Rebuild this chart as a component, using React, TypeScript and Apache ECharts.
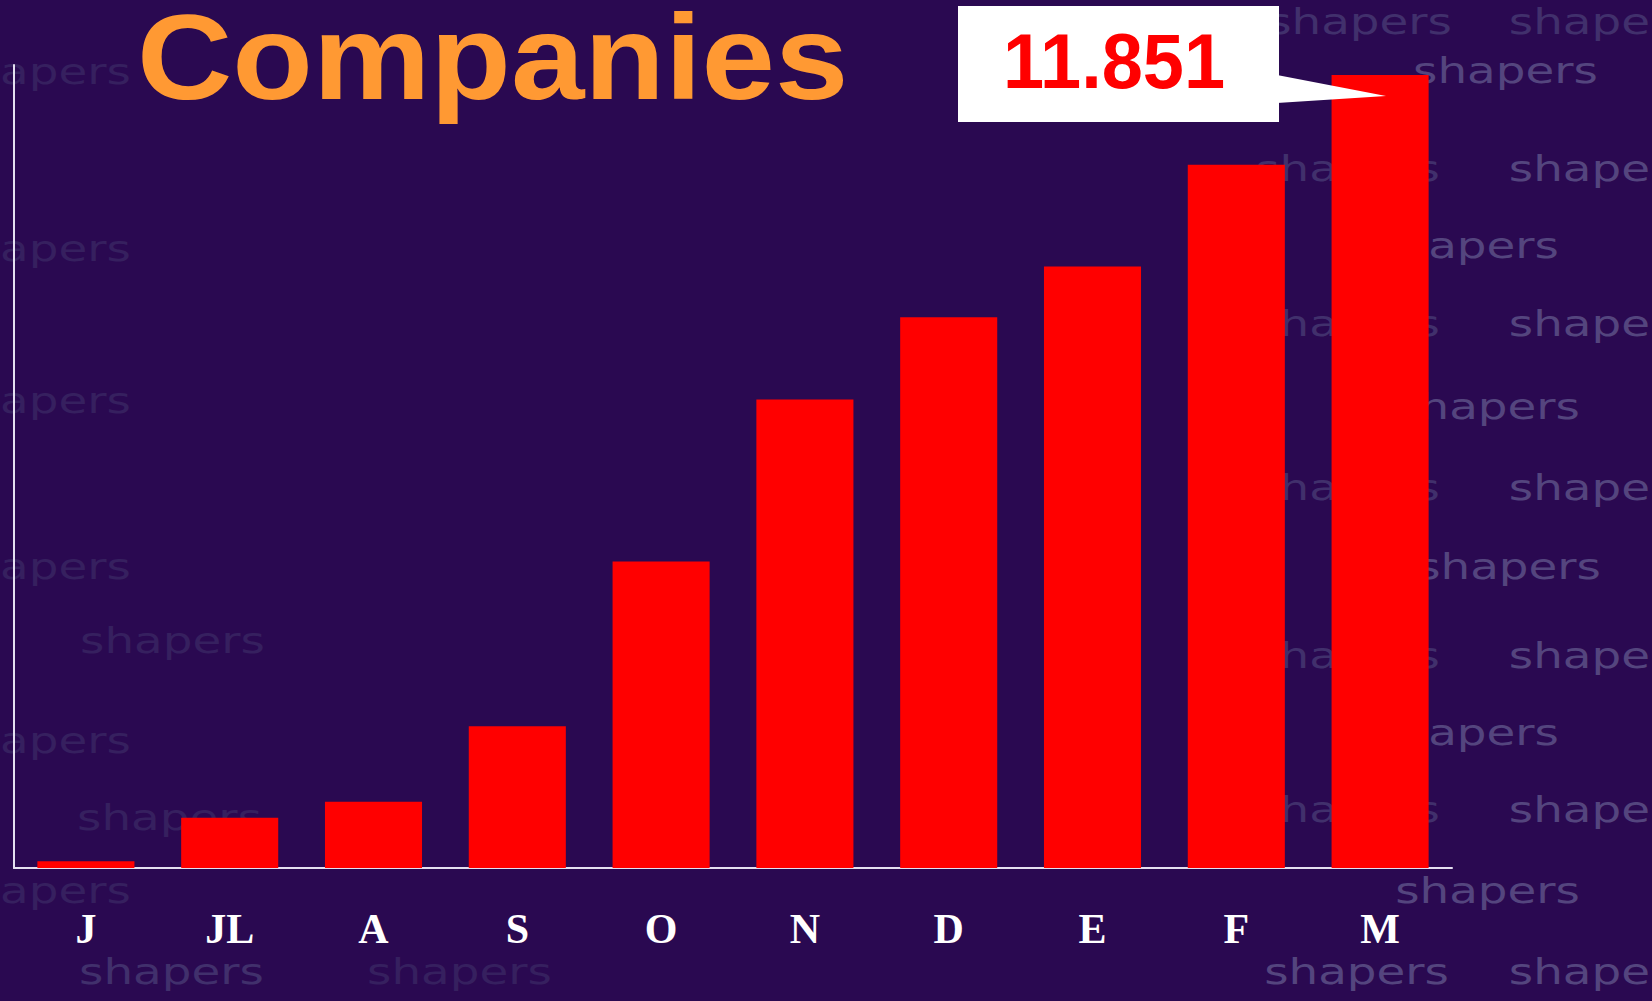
import React, { useEffect, useRef } from 'react';
import * as echarts from 'echarts';

// ---- data ----
const categories = ['J', 'JL', 'A', 'S', 'O', 'N', 'D', 'E', 'F', 'M'];
const companies = [100, 750, 990, 2120, 4580, 7000, 8230, 8990, 10510, 11851];
const titleText = 'Companies';
const yMax = 12000;

// format with a dot as thousands separator (e.g. 11.851)
const fmt = (v: number) => String(v).replace(/\B(?=(\d{3})+(?!\d))/g, '.');

// ---- decoration (background watermark) ----
type WM = { t: string; x: number; y: number; align: 'left' | 'right'; lvl: 0 | 1 | 2 };
const watermarks: WM[] = [
  { t: 'shapers', x: 1452, y: 21, align: 'right', lvl: 1 },
  { t: 'shape', x: 1650, y: 21, align: 'right', lvl: 1 },
  { t: 'shapers', x: 1413, y: 70, align: 'left', lvl: 0 },
  { t: 'shapers', x: 1440, y: 168, align: 'right', lvl: 1 },
  { t: 'shape', x: 1650, y: 168, align: 'right', lvl: 0 },
  { t: 'shapers', x: 1559, y: 245, align: 'right', lvl: 0 },
  { t: 'shapers', x: 1440, y: 323, align: 'right', lvl: 1 },
  { t: 'shape', x: 1650, y: 323, align: 'right', lvl: 0 },
  { t: 'shapers', x: 1580, y: 406, align: 'right', lvl: 0 },
  { t: 'shapers', x: 1440, y: 487, align: 'right', lvl: 1 },
  { t: 'shape', x: 1650, y: 487, align: 'right', lvl: 0 },
  { t: 'shapers', x: 1601, y: 566, align: 'right', lvl: 0 },
  { t: 'shapers', x: 1440, y: 655, align: 'right', lvl: 1 },
  { t: 'shape', x: 1650, y: 655, align: 'right', lvl: 0 },
  { t: 'shapers', x: 1559, y: 732, align: 'right', lvl: 0 },
  { t: 'shapers', x: 1440, y: 809, align: 'right', lvl: 1 },
  { t: 'shape', x: 1650, y: 809, align: 'right', lvl: 0 },
  { t: 'shapers', x: 1580, y: 890, align: 'right', lvl: 0 },
  { t: 'shapers', x: 1449, y: 971, align: 'right', lvl: 0 },
  { t: 'shape', x: 1650, y: 971, align: 'right', lvl: 0 },
  { t: 'apers', x: 0, y: 71, align: 'left', lvl: 2 },
  { t: 'apers', x: 0, y: 248, align: 'left', lvl: 2 },
  { t: 'apers', x: 0, y: 400, align: 'left', lvl: 2 },
  { t: 'apers', x: 0, y: 566, align: 'left', lvl: 2 },
  { t: 'apers', x: 0, y: 740, align: 'left', lvl: 2 },
  { t: 'apers', x: 0, y: 890, align: 'left', lvl: 2 },
  { t: 'shapers', x: 79, y: 971, align: 'left', lvl: 1 },
  { t: 'shapers', x: 367, y: 971, align: 'left', lvl: 2 },
  { t: 'shapers', x: 77, y: 817, align: 'left', lvl: 2 },
  { t: 'shapers', x: 80, y: 640, align: 'left', lvl: 2 },
];
const wmColors = ['#54457e', '#41306c', '#36205f'];

export default function App() {
  const ref = useRef<HTMLDivElement>(null);

  useEffect(() => {
    const chart = echarts.init(ref.current!, null, { renderer: 'svg' });

    const wmElements = watermarks.map((w) => ({
      type: 'text',
      x: w.x,
      y: w.y,
      z: 0,
      silent: true,
      scaleX: 1.3,
      style: {
        text: w.t,
        font: '36px "DejaVu Sans"',
        lineHeight: 36,
        fill: wmColors[w.lvl],
        align: w.align,
        verticalAlign: 'middle',
      },
    }));

    const last = companies[companies.length - 1];

    chart.setOption({
      animation: false,
      backgroundColor: '#2a0951',
      grid: { left: 14, right: 200, top: 65, bottom: 133, containLabel: false },
      xAxis: {
        type: 'category',
        data: categories,
        axisLine: { show: true, lineStyle: { color: '#e4dff0', width: 2 } },
        axisTick: { show: false },
        axisLabel: {
          interval: 0,
          color: '#ffffff',
          fontFamily: '"Liberation Serif", "Times New Roman", serif',
          fontWeight: 'bold',
          fontSize: 42,
          margin: 40,
        },
        splitLine: { show: false },
      },
      yAxis: {
        type: 'value',
        min: 0,
        max: yMax,
        axisLine: { show: true, lineStyle: { color: '#e4dff0', width: 2 } },
        axisTick: { show: false },
        axisLabel: { show: false },
        splitLine: { show: false },
      },
      series: [
        {
          type: 'bar',
          data: companies,
          barCategoryGap: '32.5%',
          itemStyle: { color: '#ff0000' },
          z: 2,
        },
      ],
      graphic: {
        elements: [
          ...wmElements,
          {
            type: 'text',
            x: 137,
            y: 58,
            z: 100,
            scaleX: 1.1,
            style: {
              text: titleText,
              font: 'bold 120px "Liberation Sans", Arial, sans-serif',
              lineHeight: 100,
              fill: '#ff9933',
              align: 'left',
              verticalAlign: 'middle',
            },
          },
          {
            type: 'rect',
            z: 100,
            shape: { x: 958, y: 6, width: 321, height: 116 },
            style: { fill: '#ffffff' },
          },
          {
            type: 'polygon',
            z: 100,
            shape: { points: [[1277, 75], [1386, 96], [1277, 103]] },
            style: { fill: '#ffffff' },
          },
          {
            type: 'text',
            x: 1114,
            y: 61,
            z: 101,
            scaleX: 0.96,
            style: {
              text: fmt(last),
              font: 'bold 77px "Liberation Sans", Arial, sans-serif',
              fill: '#ff0000',
              align: 'center',
              verticalAlign: 'middle',
            },
          },
        ],
      },
    });

    return () => chart.dispose();
  }, []);

  return (
    <div
      ref={ref}
      style={{ position: 'fixed', left: 0, top: 0, width: 1652, height: 1001 }}
    />
  );
}
